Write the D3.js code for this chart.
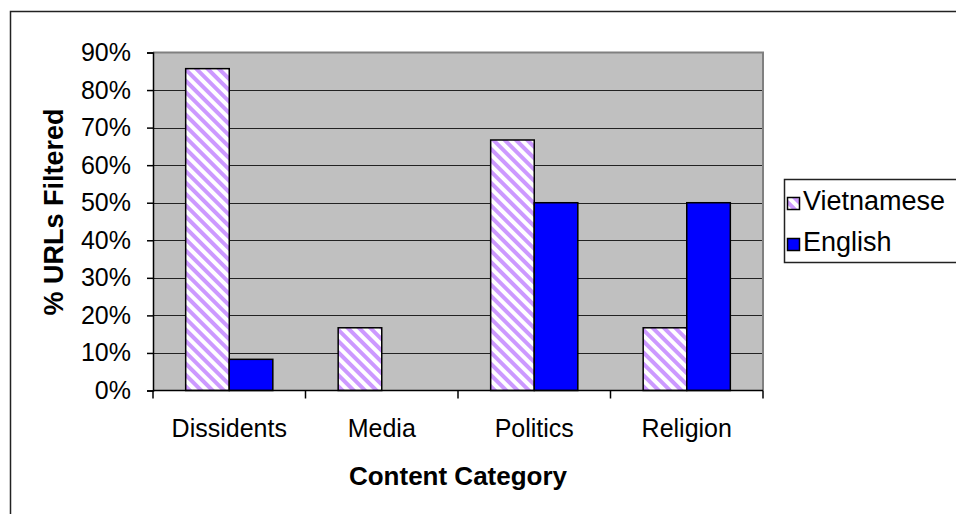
<!DOCTYPE html>
<html>
<head>
<meta charset="utf-8">
<script src="https://cdn.jsdelivr.net/npm/d3@7/dist/d3.min.js"></script>
<style>
  html, body { margin: 0; padding: 0; background: #fff; }
  svg { display: block; font-family: "Liberation Sans", Arial, sans-serif; }
</style>
</head>
<body>
<svg id="chart" width="956" height="514"></svg>
<script>
// Share of tested URLs that were filtered, by content category and language
const categories = ["Dissidents", "Media", "Politics", "Religion"];
const seriesNames = ["Vietnamese", "English"];
const vietnamese = [0.857, 0.167, 0.667, 0.167];
const english = [0.083, 0, 0.5, 0.5];
const yTicks = [0, 0.1, 0.2, 0.3, 0.4, 0.5, 0.6, 0.7, 0.8, 0.9];

const svg = d3.select("#chart");
const plot = { left: 153, right: 763, top: 52.5, bottom: 390.5 };

// Diagonal lavender hatch used for the Vietnamese series
const defs = svg.append("defs");
const pat = defs.append("pattern")
  .attr("id", "hatch")
  .attr("patternUnits", "userSpaceOnUse")
  .attr("width", 8).attr("height", 8)
  .attr("patternTransform", "rotate(45)");
pat.append("rect").attr("width", 8).attr("height", 8).attr("fill", "#ffffff");
pat.append("rect").attr("x", 0).attr("y", 0).attr("width", 8).attr("height", 4).attr("fill", "#cc99ff");

// Outer chart frame (runs past the right and bottom edges)
svg.append("rect")
  .attr("x", 10.5).attr("y", 11.5).attr("width", 1200).attr("height", 1200)
  .attr("fill", "none").attr("stroke", "#222").attr("stroke-width", 1.5);

const x = d3.scaleBand().domain(categories).range([plot.left, plot.right]).paddingInner(0).paddingOuter(0);
const inner = d3.scaleBand().domain(seriesNames).range([0, x.bandwidth()]).paddingInner(0).paddingOuter(0.75);
const y = d3.scaleLinear().domain([0, 0.9]).range([plot.bottom, plot.top]);

// Plot area
svg.append("rect")
  .attr("x", plot.left).attr("y", plot.top)
  .attr("width", plot.right - plot.left).attr("height", plot.bottom - plot.top)
  .attr("fill", "#c0c0c0");

// Gridlines
svg.append("g").selectAll("line").data(yTicks.filter(d => d > 0 && d < 0.9)).join("line")
  .attr("x1", plot.left).attr("x2", plot.right)
  .attr("y1", d => Math.round(y(d)) + 0.5).attr("y2", d => Math.round(y(d)) + 0.5)
  .attr("stroke", "#222").attr("stroke-width", 1);

// Plot border on top and right
svg.append("path")
  .attr("d", `M${plot.left},${plot.top}H${plot.right}V${plot.bottom}`)
  .attr("fill", "none").attr("stroke", "#808080").attr("stroke-width", 2);

// Bars
const rows = categories.map((c, i) => ({ c, vals: [vietnamese[i], english[i]] }));
const groups = svg.append("g").selectAll("g").data(rows).join("g")
  .attr("transform", d => `translate(${x(d.c)},0)`);
groups.selectAll("rect")
  .data(d => d.vals.map((v, j) => ({ s: seriesNames[j], v })).filter(e => e.v > 0))
  .join("rect")
  .attr("x", d => inner(d.s))
  .attr("width", inner.bandwidth())
  .attr("y", d => y(d.v))
  .attr("height", d => y(0) - y(d.v))
  .attr("fill", d => d.s === "Vietnamese" ? "url(#hatch)" : "#0000ff")
  .attr("stroke", "#000").attr("stroke-width", 1.5);

// Y axis
const yAxis = svg.append("g")
  .attr("transform", `translate(${plot.left},0)`)
  .call(d3.axisLeft(y).tickValues(yTicks).tickFormat(d3.format(".0%")).tickSize(6).tickPadding(16));
yAxis.select(".domain").attr("stroke", "#000").attr("stroke-width", 1.5);
yAxis.selectAll(".tick line").attr("stroke", "#000").attr("stroke-width", 1.5);
yAxis.selectAll("text").attr("font-size", 25).attr("fill", "#000")
  .attr("font-family", "Liberation Sans, Arial, sans-serif");

// X axis with ticks at category boundaries
const xAxis = svg.append("g").attr("transform", `translate(0,${plot.bottom})`);
xAxis.append("line").attr("x1", plot.left).attr("x2", plot.right)
  .attr("stroke", "#000").attr("stroke-width", 1.5);
const bounds = categories.map(c => x(c)).concat([plot.right]);
xAxis.selectAll(".bt").data(bounds).join("line").attr("class", "bt")
  .attr("x1", d => d).attr("x2", d => d).attr("y1", 0).attr("y2", 8)
  .attr("stroke", "#000").attr("stroke-width", 1.5);
xAxis.selectAll("text").data(categories).join("text")
  .attr("x", d => x(d) + x.bandwidth() / 2).attr("y", 46)
  .attr("text-anchor", "middle").attr("font-size", 25).attr("fill", "#000")
  .text(d => d);

// Axis titles
svg.append("text")
  .attr("x", 458).attr("y", 485)
  .attr("text-anchor", "middle").attr("font-size", 26).attr("font-weight", "bold")
  .text("Content Category");
svg.append("text")
  .attr("transform", `translate(63,212) rotate(-90)`)
  .attr("text-anchor", "middle").attr("font-size", 27).attr("font-weight", "bold")
  .text("% URLs Filtered");

// Legend
const legend = svg.append("g");
legend.append("rect")
  .attr("x", 784.5).attr("y", 179.5).attr("width", 300).attr("height", 83)
  .attr("fill", "#fff").attr("stroke", "#222").attr("stroke-width", 1.5);
const items = legend.selectAll("g").data(seriesNames).join("g")
  .attr("transform", (d, i) => `translate(0,${i * 41})`);
items.append("rect")
  .attr("x", 787.5).attr("y", 197.5).attr("width", 12).attr("height", 12)
  .attr("fill", d => d === "Vietnamese" ? "url(#hatch)" : "#0000ff")
  .attr("stroke", "#000").attr("stroke-width", 1.5);
items.append("text")
  .attr("x", 803).attr("y", 210)
  .attr("font-size", 27).attr("fill", "#000")
  .text(d => d);
</script>
</body>
</html>
